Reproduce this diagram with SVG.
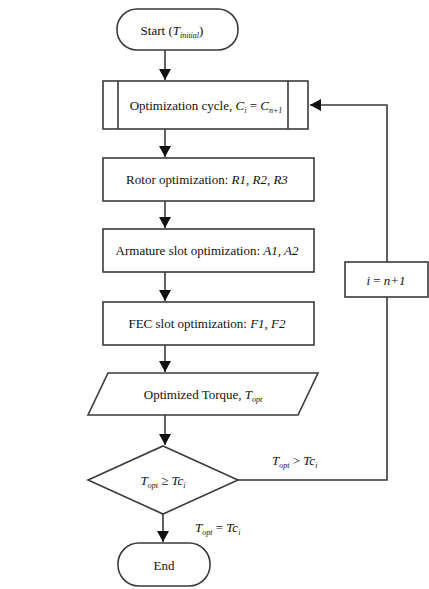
<svg xmlns="http://www.w3.org/2000/svg" width="429" height="589" viewBox="0 0 429 589">
<defs>
<marker id="ah" markerWidth="11" markerHeight="12" refX="11" refY="6" orient="auto" markerUnits="userSpaceOnUse">
<path d="M0,0 L11,6 L0,12 Z" fill="#111"/>
</marker>
<style>
.s{fill:#fff;stroke:#3a3a3a;stroke-width:1.6}
.c{fill:none;stroke:#3a3a3a;stroke-width:1.6}
text{font-family:"Liberation Serif","Times New Roman",serif;font-size:13px;fill:#111}
.t{text-anchor:middle}
.i{font-style:italic}
.sub{font-size:8px;font-style:italic}
</style>
</defs>
<rect width="429" height="589" fill="#fff"/>
<g id="connectors">
<line class="c" x1="165" y1="50" x2="165" y2="80" marker-end="url(#ah)"/>
<line class="c" x1="165" y1="129" x2="165" y2="157" marker-end="url(#ah)"/>
<line class="c" x1="165" y1="201" x2="165" y2="228" marker-end="url(#ah)"/>
<line class="c" x1="165" y1="272" x2="165" y2="301" marker-end="url(#ah)"/>
<line class="c" x1="165" y1="345" x2="165" y2="372" marker-end="url(#ah)"/>
<line class="c" x1="165" y1="415" x2="165" y2="445" marker-end="url(#ah)"/>
<line class="c" x1="163" y1="514" x2="163" y2="542" marker-end="url(#ah)"/>
<polyline class="c" points="238,480 387,480 387,297"/>
<polyline class="c" points="387,262 387,105 310,105" marker-end="url(#ah)"/>
<text x="272" y="465"><tspan class="i">T</tspan><tspan class="sub" dy="3">opt</tspan><tspan dy="-3"> &gt; </tspan><tspan class="i">Tc</tspan><tspan class="sub" dy="3">i</tspan></text>
<text x="195" y="532"><tspan class="i">T</tspan><tspan class="sub" dy="3">opt</tspan><tspan dy="-3"> = </tspan><tspan class="i">Tc</tspan><tspan class="sub" dy="3">i</tspan></text>
</g>
<g id="start">
<rect class="s" x="117" y="9" width="121" height="41" rx="20" ry="20"/>
<text class="t" x="172" y="35">Start (<tspan class="i">T</tspan><tspan class="sub" dy="3">initial</tspan><tspan dy="-3">)</tspan></text>
</g>
<g id="cycle">
<rect class="s" x="103" y="81" width="205" height="48"/>
<line class="c" x1="118" y1="81" x2="118" y2="129"/>
<line class="c" x1="288" y1="81" x2="288" y2="129"/>
<text class="t" x="206" y="110">Optimization cycle, <tspan class="i">C</tspan><tspan class="sub" dy="3">i</tspan><tspan dy="-3"> = </tspan><tspan class="i">C</tspan><tspan class="sub" dy="3">n+1</tspan></text>
</g>
<g id="rotor">
<rect class="s" x="103" y="158" width="211" height="43"/>
<text class="t" x="207" y="184">Rotor optimization: <tspan class="i">R1, R2, R3</tspan></text>
</g>
<g id="armature">
<rect class="s" x="103" y="229" width="211" height="43"/>
<text class="t" x="207" y="255">Armature slot optimization: <tspan class="i">A1, A2</tspan></text>
</g>
<g id="fec">
<rect class="s" x="103" y="302" width="211" height="43"/>
<text class="t" x="207" y="328">FEC slot optimization: <tspan class="i">F1, F2</tspan></text>
</g>
<g id="torque">
<polygon class="s" points="108,373 318,373 298,415 88,415"/>
<text class="t" x="203" y="399">Optimized Torque, <tspan class="i">T</tspan><tspan class="sub" dy="3">opt</tspan></text>
</g>
<g id="decision">
<polygon class="s" points="163,446 238,480 163,514 88,480"/>
<text class="t" x="163" y="485"><tspan class="i">T</tspan><tspan class="sub" dy="3">opt</tspan><tspan dy="-3"> ≥ </tspan><tspan class="i">Tc</tspan><tspan class="sub" dy="3">i</tspan></text>
</g>
<g id="iter">
<rect class="s" x="345" y="262" width="83" height="35"/>
<text class="t" x="386" y="285"><tspan class="i">i</tspan> = <tspan class="i">n+1</tspan></text>
</g>
<g id="end">
<rect class="s" x="118" y="543" width="92" height="43" rx="21" ry="21"/>
<text class="t" x="164" y="570">End</text>
</g>
</svg>
